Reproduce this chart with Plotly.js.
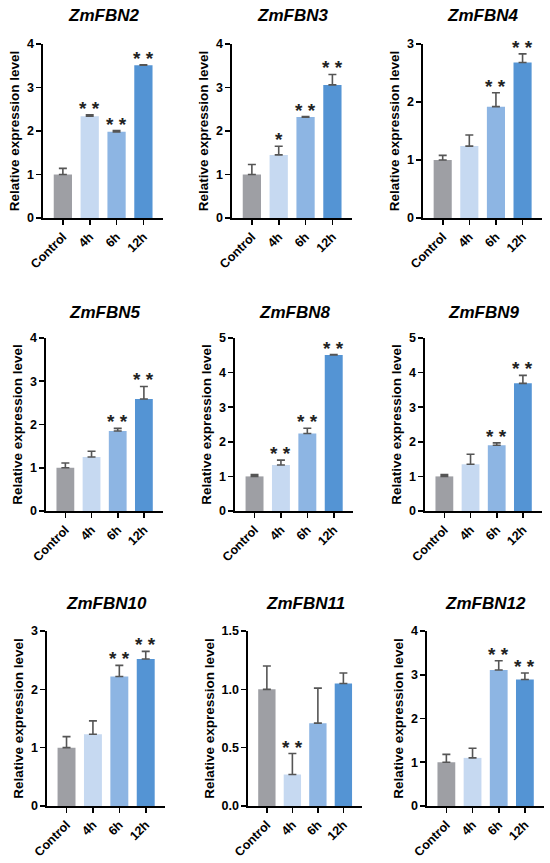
<!DOCTYPE html>
<html>
<head>
<meta charset="utf-8">
<script src="https://cdn.plot.ly/plotly-3.0.1.min.js"></script>
<style>html,body{margin:0;padding:0;background:#fff;}#chart{width:550px;height:863px;}</style>
</head>
<body>
<div id="chart"></div>
<script>
const categories = ['Control', '4h', '6h', '12h'];
const barColors = ['#9e9fa4', '#c6d9f1', '#8db5e3', '#5494d4'];
const genes = ['ZmFBN2', 'ZmFBN3', 'ZmFBN4', 'ZmFBN5', 'ZmFBN8', 'ZmFBN9', 'ZmFBN10', 'ZmFBN11', 'ZmFBN12'];

const fbn2Mean = [1.0, 2.34, 1.98, 3.51];
const fbn2Err = [0.14, 0.03, 0.03, 0.01];
const fbn2Sig = ['', '**', '**', '**'];

const fbn3Mean = [1.0, 1.45, 2.32, 3.06];
const fbn3Err = [0.23, 0.20, 0.01, 0.24];
const fbn3Sig = ['', '*', '**', '**'];

const fbn4Mean = [1.0, 1.24, 1.92, 2.68];
const fbn4Err = [0.08, 0.19, 0.24, 0.15];
const fbn4Sig = ['', '', '**', '**'];

const fbn5Mean = [1.0, 1.25, 1.85, 2.59];
const fbn5Err = [0.11, 0.13, 0.06, 0.29];
const fbn5Sig = ['', '', '**', '**'];

const fbn8Mean = [1.0, 1.33, 2.24, 4.51];
const fbn8Err = [0.05, 0.14, 0.15, 0.01];
const fbn8Sig = ['', '**', '**', '**'];

const fbn9Mean = [1.0, 1.35, 1.90, 3.69];
const fbn9Err = [0.05, 0.29, 0.07, 0.23];
const fbn9Sig = ['', '', '**', '**'];

const fbn10Mean = [1.0, 1.23, 2.22, 2.52];
const fbn10Err = [0.19, 0.23, 0.19, 0.13];
const fbn10Sig = ['', '', '**', '**'];

const fbn11Mean = [1.0, 0.27, 0.71, 1.05];
const fbn11Err = [0.20, 0.18, 0.30, 0.09];
const fbn11Sig = ['', '**', '', ''];

const fbn12Mean = [1.0, 1.10, 3.11, 2.89];
const fbn12Err = [0.18, 0.22, 0.21, 0.15];
const fbn12Sig = ['', '', '**', '**'];

const yMax = [4, 4, 3, 4, 5, 5, 3, 1.5, 4];
const yStep = [1, 1, 1, 1, 1, 1, 1, 0.5, 1];
const yFormat = ['d', 'd', 'd', 'd', 'd', 'd', 'd', '.1f', 'd'];

const means = [fbn2Mean, fbn3Mean, fbn4Mean, fbn5Mean, fbn8Mean, fbn9Mean, fbn10Mean, fbn11Mean, fbn12Mean];
const errs = [fbn2Err, fbn3Err, fbn4Err, fbn5Err, fbn8Err, fbn9Err, fbn10Err, fbn11Err, fbn12Err];
const sigs = [fbn2Sig, fbn3Sig, fbn4Sig, fbn5Sig, fbn8Sig, fbn9Sig, fbn10Sig, fbn11Sig, fbn12Sig];

// panel plot-area boxes in pixels [x0, x1, yTop, yBottom]
const boxes = [
  [43, 163, 44, 218], [232, 352, 44, 218], [423, 542, 44, 218],
  [46, 163, 338, 511], [235, 353, 338, 511], [425, 542, 338, 511],
  [47, 165, 631, 806], [248, 362, 631, 806], [427, 544, 631, 806]
];
const titleY = [15, 15, 15, 312, 312, 312, 603, 603, 603];

const W = 550, H = 863;
const FONT = 'Arial, "Liberation Sans", Helvetica, sans-serif';

const data = [];
const layout = {
  width: W, height: H,
  margin: {l: 0, r: 0, t: 0, b: 0},
  paper_bgcolor: '#fff', plot_bgcolor: '#fff',
  showlegend: false,
  font: {family: FONT, color: '#000'},
  annotations: []
};

for (let i = 0; i < 9; i++) {
  const n = i + 1;
  const xa = 'x' + (n === 1 ? '' : n);
  const ya = 'y' + (n === 1 ? '' : n);
  const b = boxes[i];
  data.push({
    type: 'bar',
    x: categories,
    y: means[i],
    xaxis: xa, yaxis: ya,
    width: 0.68,
    marker: {color: barColors, line: {width: 0}},
    error_y: {
      type: 'data', symmetric: false,
      array: errs[i], arrayminus: errs[i].map(() => 0),
      color: '#555555', thickness: 1.6, width: 4
    },
    hoverinfo: 'skip'
  });
  const xKey = 'xaxis' + (n === 1 ? '' : n);
  const yKey = 'yaxis' + (n === 1 ? '' : n);
  layout[xKey] = {
    domain: [b[0] / W, b[1] / W],
    anchor: ya,
    type: 'category',
    range: [-0.74, 3.73],
    showline: true, linecolor: '#000', linewidth: 1.6,
    ticks: 'outside', ticklen: 5, tickwidth: 1.6, tickcolor: '#000',
    tickangle: -45,
    tickfont: {family: FONT, size: 12.5, color: '#000', weight: 'bold'},
    showgrid: false, zeroline: false, fixedrange: true
  };
  layout[yKey] = {
    domain: [1 - b[3] / H, 1 - b[2] / H],
    anchor: xa,
    range: [0, yMax[i]],
    dtick: yStep[i], tick0: 0,
    tickformat: yFormat[i],
    showline: true, linecolor: '#000', linewidth: 1.6,
    ticks: 'outside', ticklen: 5, tickwidth: 1.6, tickcolor: '#000',
    tickfont: {family: FONT, size: 12.5, color: '#000', weight: 'bold'},
    showgrid: false, zeroline: false, fixedrange: true,
    title: {text: 'Relative expression level', font: {family: FONT, size: 13.5, color: '#000', weight: 'bold'}, standoff: 4}
  };
  layout.annotations.push({
    text: '<b><i>' + genes[i] + '</i></b>',
    xref: 'paper', yref: 'paper',
    x: (b[0] + b[1]) / 2 / W, y: 1 - titleY[i] / H,
    xanchor: 'center', yanchor: 'middle',
    showarrow: false,
    font: {family: FONT, size: 17, color: '#000'}
  });
  for (let k = 0; k < categories.length; k++) {
    if (!sigs[i][k]) continue;
    layout.annotations.push({
      text: '<b>' + sigs[i][k].split('').join(' ') + '</b>',
      xref: xa, yref: ya,
      x: categories[k], y: means[i][k] + errs[i][k],
      xanchor: 'center', yanchor: 'bottom',
      yshift: -6,
      showarrow: false,
      font: {family: FONT, size: 19, color: '#222'}
    });
  }
}

Plotly.newPlot('chart', data, layout, {staticPlot: true, displayModeBar: false});
</script>
</body>
</html>
